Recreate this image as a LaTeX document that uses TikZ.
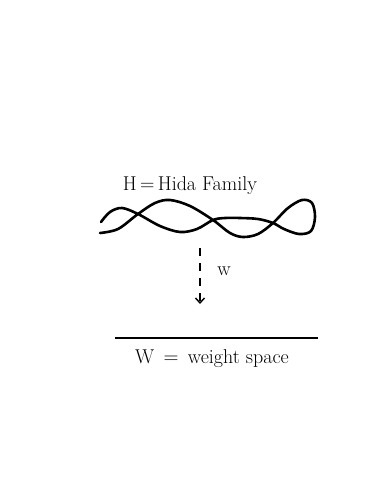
\documentclass[tikz,border=0pt]{standalone}
\usepackage{tikz}
\usetikzlibrary{positioning,arrows.meta}

\begin{document}
\begin{tikzpicture}[
    x=1pt, y=-1pt,
    label/.style={font=\fontsize{20}{24}\selectfont, inner sep=0pt},
    strand/.style={line width=2.6pt, line cap=round, line join=round},
    arrow/.style={-{Straight Barb[length=5pt,width=9pt]}, line width=1.4pt, dash pattern=on 8pt off 7pt}
]
\useasboundingbox[fill=white] (0,0) rectangle (380,488);

\node[label] (hida) at (190,186) {H\,=\,Hida Family};
\node[label] (wlabel) at (224,271) {w};
\node[label] (space) at (212,359) {W \,$=$\, weight space};

\coordinate (top) at (200,248);
\coordinate (bottom) at (200,304);
\coordinate (left) at (115,338);
\coordinate (right) at (318,338);

% the family, one strand ending in a loop
\draw[strand] plot[smooth, tension=0.55] coordinates {
    (100,233) (118,229) (138,214) (155,203) (170,200) (190,206) (213,220)
    (230,233) (243,237) (258,234) (273,223) (288,208) (302,200) (312,203)
    (315,217) (311,231) (299,234) (284,229) (273,223) (258,219) (240,218)
    (225,218) (213,220) (197,229) (180,232) (160,226) (138,214) (122,208)
    (110,212) (101,222)};

\draw[arrow] (top) -- (bottom);
\draw[line width=2pt] (left) -- (right);
\end{tikzpicture}
\end{document}
